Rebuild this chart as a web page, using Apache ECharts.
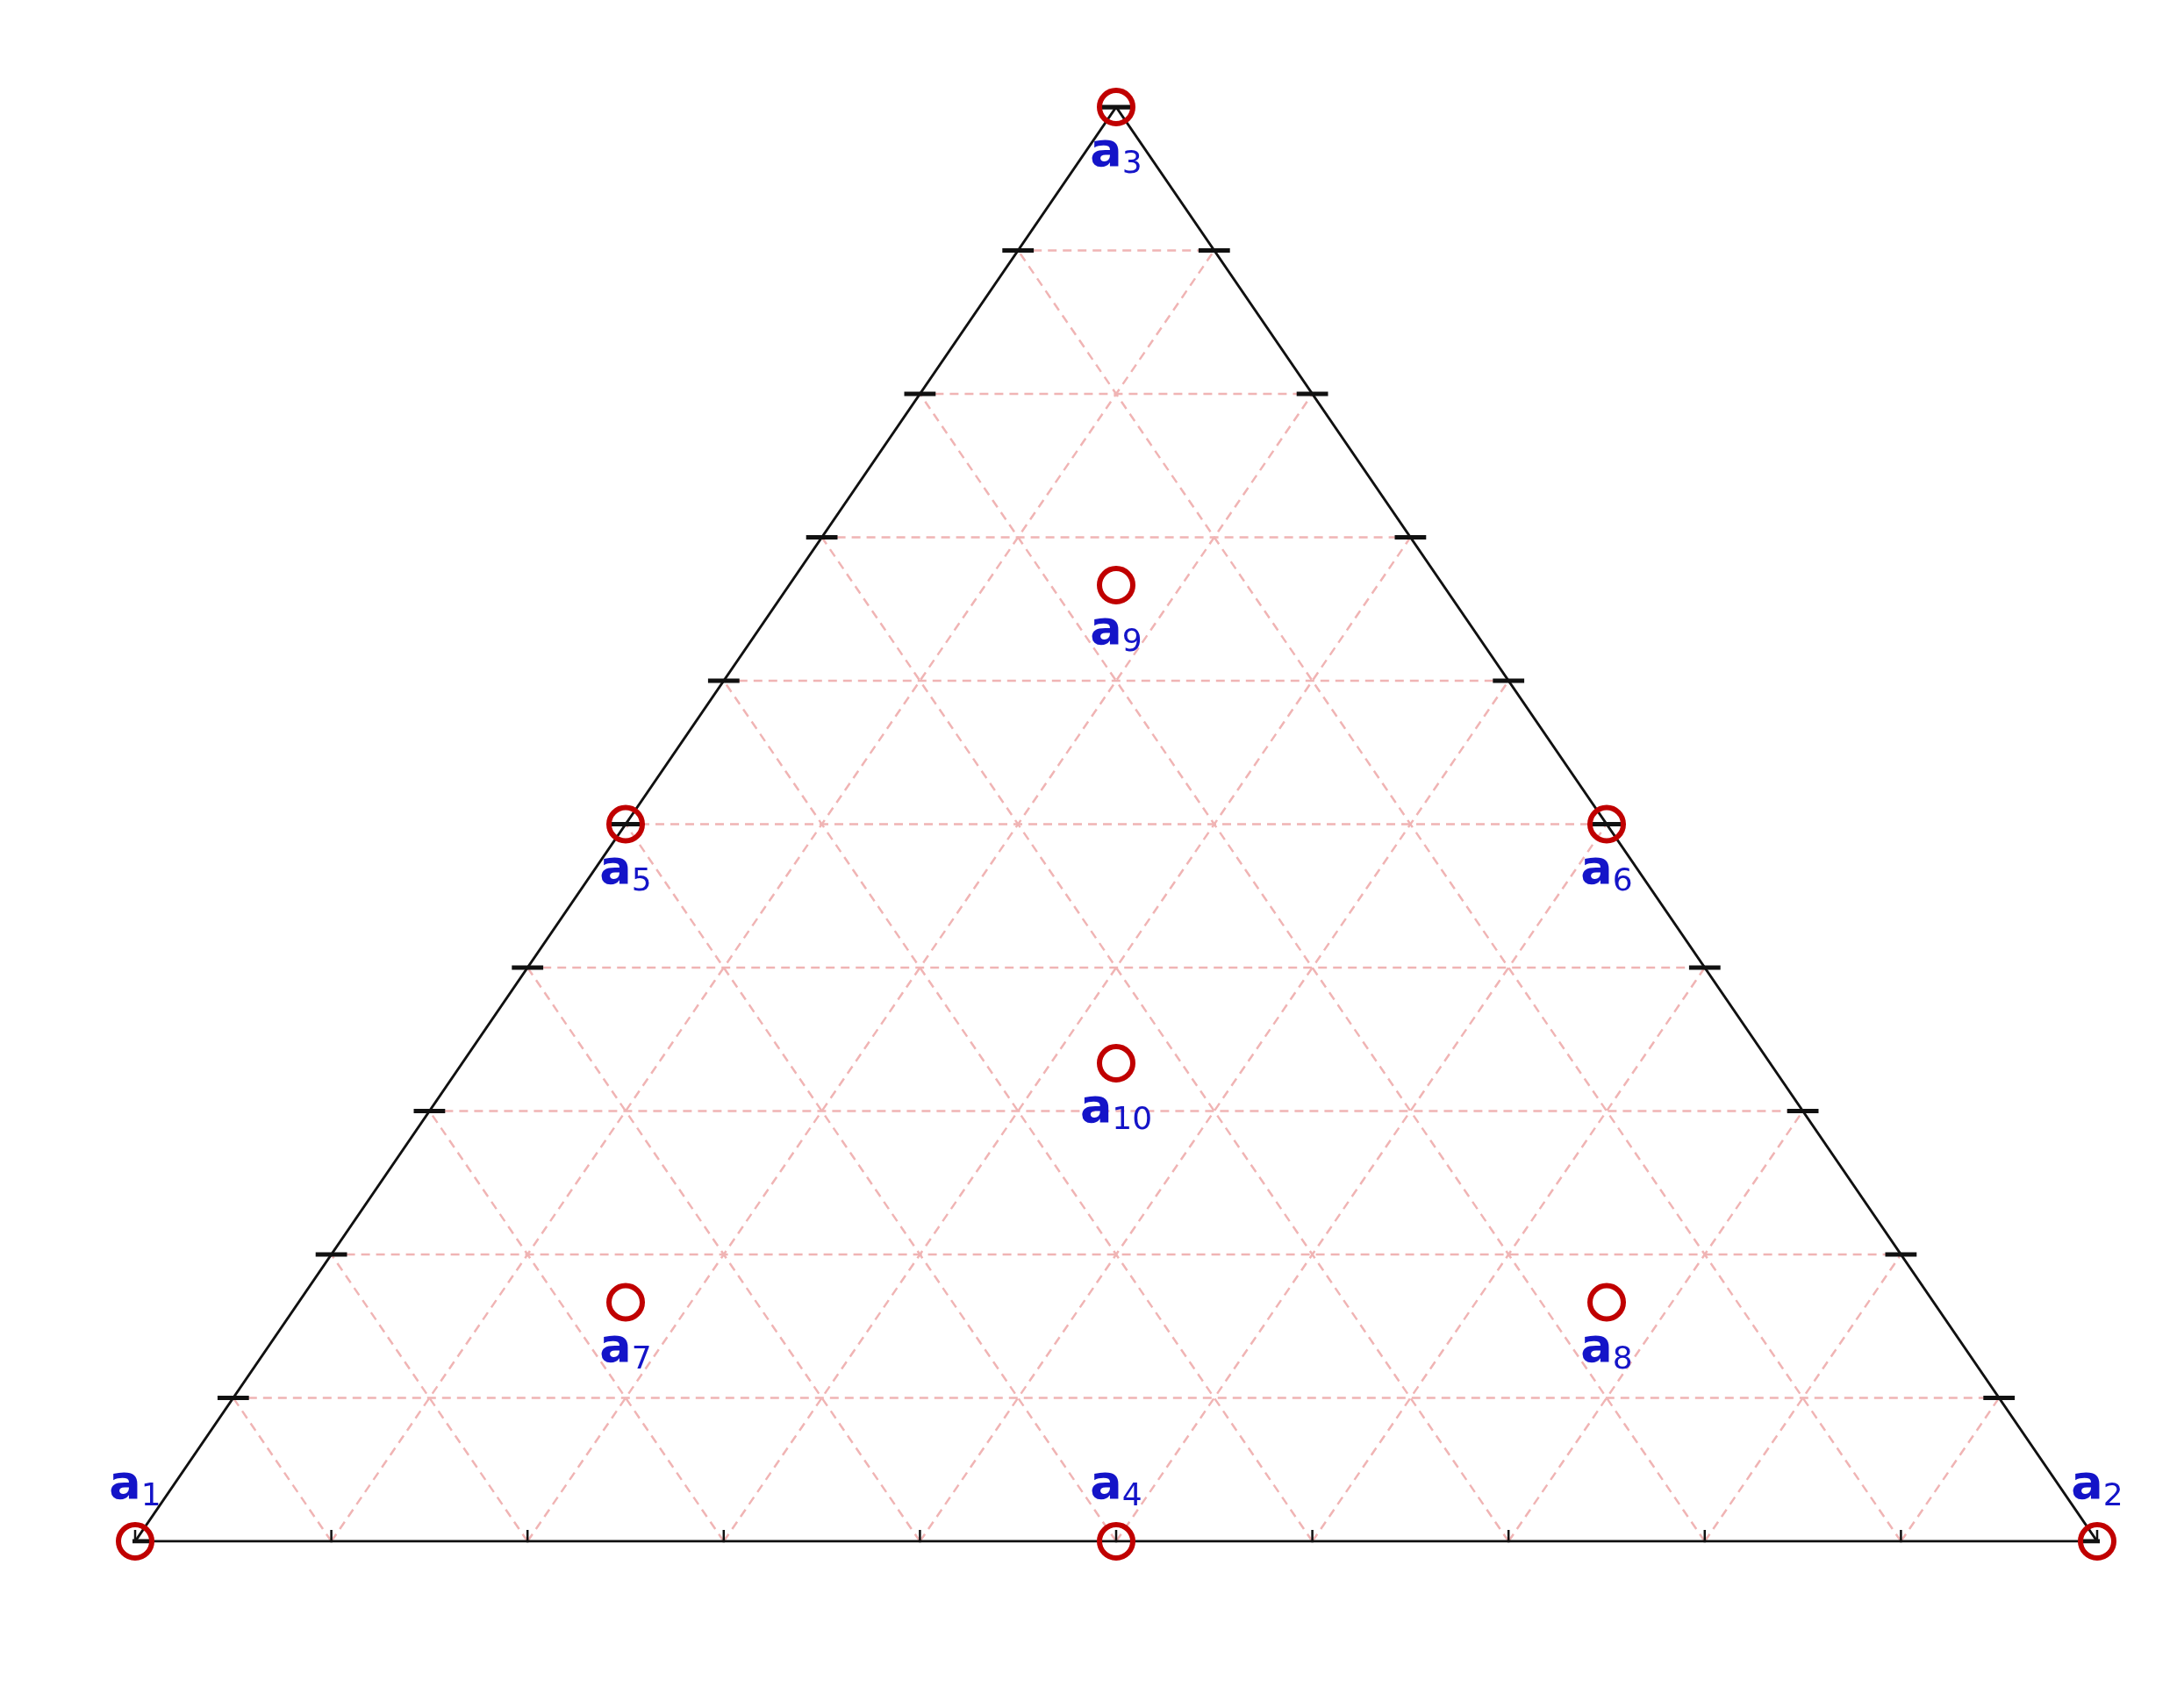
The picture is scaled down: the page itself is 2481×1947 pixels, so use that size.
<!DOCTYPE html>
<html><head><meta charset="utf-8">
<script src="https://cdn.jsdelivr.net/npm/echarts@6/dist/echarts.min.js"></script>
<style>html,body{margin:0;padding:0;background:#fff}#c{width:2481px;height:1947px}</style>
</head><body><div id="c"></div>
<script>
// ternary data: [MK, RHA, D]
const pointNames = ['1','2','3','4','5','6','7','8','9','10'];
const pointMK  = [1, 0, 0, 0.5, 0.5, 0, 2/3, 1/6, 1/6, 1/3];
const pointRHA = [0, 1, 0, 0.5, 0, 0.5, 1/6, 2/3, 1/6, 1/3];
const pointD   = [0, 0, 1, 0, 0.5, 0.5, 1/6, 1/6, 2/3, 1/3];
const labelAbove = [true, true, false, true, false, false, false, false, false, false];
const ticks = [0,0.1,0.2,0.3,0.4,0.5,0.6,0.7,0.8,0.9,1];
const bottomTickLabels = ['0','0.1','0.2','0.3','0.4','0.5','0.6','0.7','0.8','0.9','1'];
const leftTickLabels   = ['1','0.9','0.8','0.7','0.6','0.5','0.4','0.3','0.2','0.1','0']; // at D = ticks
const rightTickLabels  = ['0','0.1','0.2','0.3','0.4','0.5','0.6','0.7','0.8','0.9','1'];
const axisNames = {left:'MK', right:'RHA', top:'D'};

const toXY = (r, d) => [r + d/2, d];
const FONT = 'DejaVu Sans';
const series = [];
const push = (pts, style) => series.push({type:'line', data:pts, symbol:'none', silent:true, lineStyle:style, animation:false, z:style.z||2, emphasis:{disabled:true}});

const gridStyle = {color:'#f0b4b4', width:2.5, type:[10,7]};
ticks.slice(1,-1).forEach(t=>{
  push([toXY(0,t), toXY(1-t,t)], gridStyle);
  push([toXY(t,0), toXY(0,t)], gridStyle);
  push([toXY(t,0), toXY(t,1-t)], gridStyle);
});
push([toXY(0,0), toXY(1,0), toXY(0,1), toXY(0,0)], {color:'#111', width:3, z:5});
const tx = 0.008, ty = 0.008;
ticks.forEach(t=>{
  push([[t, -ty],[t, ty]], {color:'#111', width:2.5, z:5});
  const l = toXY(0,t), r = toXY(1-t,t);
  push([[l[0]-tx,l[1]],[l[0]+tx,l[1]]], {color:'#111', width:5, z:5});
  push([[r[0]-tx,r[1]],[r[0]+tx,r[1]]], {color:'#111', width:5, z:5});
});
const lblStyle = {show:true, fontFamily:FONT, fontSize:35, color:'#000', textBorderWidth:0};
const lblSeries = (data) => ({type:'scatter', symbol:'none', symbolSize:1, silent:true, animation:false, labelLayout:{hideOverlap:false}, emphasis:{disabled:true}, data});
series.push(lblSeries(ticks.map((t,i)=>({value:[t,0], label:{...lblStyle, formatter:bottomTickLabels[i], position:'bottom', distance:62}}))));
series.push(lblSeries(ticks.map((t,i)=>({value:toXY(0,t), label:{...lblStyle, formatter:leftTickLabels[i], position:'left', distance: i===0?60:36}}))));
series.push(lblSeries(ticks.map((t,i)=>({value:toXY(1-t,t), label:{...lblStyle, formatter:rightTickLabels[i], position:'right', distance: i===0?50:36}}))));
series.push(lblSeries([
  {value:[0,0], label:{...lblStyle, formatter:axisNames.left, fontWeight:'bold', fontSize:40, position:'bottom', offset:[-80,120]}},
  {value:[1,0], label:{...lblStyle, formatter:axisNames.right, fontSize:38, position:'bottom', offset:[30,130]}},
  {value:[0.5,1], label:{...lblStyle, formatter:axisNames.top, fontSize:38, position:'top', offset:[-8,-25]}}
]));
series.push({type:'scatter', symbol:'circle', symbolSize:38, animation:false, z:10, emphasis:{disabled:true},
  labelLayout:{hideOverlap:false},
  itemStyle:{color:'rgba(255,255,255,0)', borderColor:'#c00000', borderWidth:6, opacity:1},
  data: pointNames.map((n,i)=>{
    const xy = toXY(pointRHA[i], pointD[i]);
    let off = [12, 0];
    if (i===0) off=[-4,0]; if (i===1) off=[4,0];
    return {value:xy, label:{show:true, position: labelAbove[i]?'top':'bottom', distance: labelAbove[i]?10:0, offset:off,
      formatter:'{a|a}{s|'+n+'}',
      rich:{a:{fontFamily:FONT, fontWeight:'bold', fontSize:54, color:'#1414c8', textBorderWidth:0},
            s:{fontFamily:FONT, fontSize:36, color:'#1414c8', padding:[26,0,0,0], textBorderWidth:0}}}};
  })});

const chart = echarts.init(document.getElementById('c'), null, {renderer:'canvas'});
chart.setOption({
  backgroundColor:'#fff',
  grid:{left:154, top:122, width:2236, height:1635},
  xAxis:{type:'value', min:0, max:1, show:false},
  yAxis:{type:'value', min:0, max:1, show:false},
  series
});
</script></body></html>
